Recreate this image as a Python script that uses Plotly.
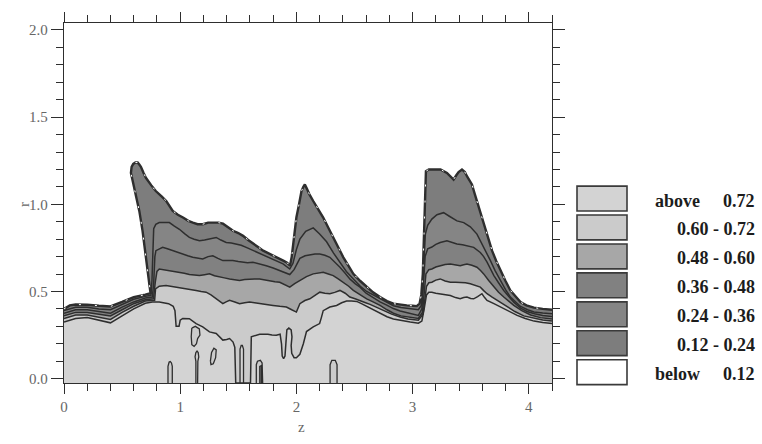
import plotly.graph_objects as go

# ---------------------------------------------------------------------------
# Data: contour lines of the field on the (z, r) plane, as (z, r) vertex lists
# ---------------------------------------------------------------------------
Z_MIN, Z_MAX = 0.0, 4.2
R_MIN, R_MAX = -0.025, 2.04

levels = [0.12, 0.24, 0.36, 0.48, 0.60, 0.72]
legend_labels = ["0.72", "0.60 - 0.72", "0.48 - 0.60", "0.36 - 0.48",
                 "0.24 - 0.36", "0.12 - 0.24", "0.12"]
legend_prefix = ["above", "", "", "", "", "", "below"]

# fill colours, from "below 0.12" up to "above 0.72"
band_colors = ["#ffffff", "#7d7d7d", "#858585", "#818181",
               "#a7a7a7", "#cbcbcb", "#d3d3d3"]

contour_012 = [
    (0.0, 0.40), (0.05, 0.42), (0.1, 0.425), (0.2, 0.424), (0.3, 0.418), (0.4, 0.414),
    (0.5, 0.44), (0.6, 0.468), (0.7, 0.482), (0.745, 0.49), (0.734, 0.544), (0.72, 0.62),
    (0.70, 0.734), (0.676, 0.848), (0.648, 0.962), (0.619, 1.057), (0.59, 1.133),
    (0.576, 1.18), (0.582, 1.215), (0.596, 1.232), (0.615, 1.24), (0.634, 1.24),
    (0.648, 1.228), (0.662, 1.215), (0.685, 1.18), (0.705, 1.152), (0.75, 1.11),
    (0.79, 1.076), (0.84, 1.045), (0.88, 1.019), (0.936, 0.962), (0.98, 0.94),
    (1.024, 0.924), (1.07, 0.905), (1.109, 0.895), (1.15, 0.886), (1.195, 0.886),
    (1.24, 0.895), (1.282, 0.895), (1.33, 0.895), (1.368, 0.889), (1.41, 0.87),
    (1.455, 0.848), (1.5, 0.835), (1.541, 0.819), (1.585, 0.795), (1.628, 0.772),
    (1.67, 0.755), (1.714, 0.734), (1.76, 0.72), (1.80, 0.705), (1.85, 0.69),
    (1.887, 0.677), (1.92, 0.665), (1.945, 0.648), (1.96, 0.70), (1.975, 0.80),
    (1.99, 0.88), (2.0, 0.924), (2.02, 0.99), (2.044, 1.076), (2.06, 1.10),
    (2.073, 1.114), (2.09, 1.09), (2.11, 1.06), (2.145, 1.019), (2.19, 0.97),
    (2.231, 0.924), (2.275, 0.865), (2.317, 0.81), (2.36, 0.75), (2.404, 0.696),
    (2.45, 0.645), (2.49, 0.601), (2.55, 0.56), (2.605, 0.525), (2.66, 0.495),
    (2.72, 0.468), (2.78, 0.445), (2.835, 0.43), (2.9, 0.422), (2.95, 0.42),
    (3.0, 0.418), (3.036, 0.416), (3.06, 0.43), (3.075, 0.48), (3.088, 0.60),
    (3.096, 0.75), (3.104, 0.95), (3.11, 1.10), (3.115, 1.19), (3.14, 1.20),
    (3.18, 1.20), (3.24, 1.20), (3.296, 1.18), (3.33, 1.16), (3.353, 1.142),
    (3.375, 1.165), (3.396, 1.185), (3.425, 1.20), (3.45, 1.185), (3.468, 1.161),
    (3.49, 1.14), (3.511, 1.114), (3.535, 1.06), (3.554, 1.019), (3.575, 0.97),
    (3.597, 0.924), (3.62, 0.875), (3.641, 0.829), (3.663, 0.78), (3.684, 0.734),
    (3.72, 0.675), (3.756, 0.62), (3.8, 0.56), (3.842, 0.506), (3.885, 0.47),
    (3.929, 0.439), (3.98, 0.42), (4.045, 0.407), (4.12, 0.40), (4.2, 0.395),
]

contour_024 = [
    (0.0, 0.39), (0.1, 0.41), (0.2, 0.41), (0.3, 0.40), (0.4, 0.395), (0.5, 0.425),
    (0.6, 0.455), (0.7, 0.472), (0.748, 0.478), (0.757, 0.56), (0.764, 0.75),
    (0.772, 0.86), (0.79, 0.885), (0.82, 0.895), (0.87, 0.895), (0.907, 0.895),
    (0.95, 0.875), (0.993, 0.857), (1.04, 0.83), (1.079, 0.81), (1.12, 0.80),
    (1.166, 0.791), (1.21, 0.795), (1.252, 0.80), (1.31, 0.81), (1.35, 0.795),
    (1.396, 0.781), (1.44, 0.778), (1.482, 0.772), (1.525, 0.765), (1.568, 0.753),
    (1.63, 0.735), (1.684, 0.715), (1.74, 0.70), (1.799, 0.686), (1.845, 0.672),
    (1.885, 0.658), (1.943, 0.629), (1.97, 0.66), (2.0, 0.74), (2.03, 0.80),
    (2.08, 0.845), (2.145, 0.865), (2.2, 0.83), (2.26, 0.785), (2.32, 0.72),
    (2.375, 0.668), (2.43, 0.615), (2.49, 0.572), (2.55, 0.53), (2.605, 0.50),
    (2.66, 0.48), (2.72, 0.455), (2.78, 0.435), (2.835, 0.418), (2.9, 0.408),
    (2.95, 0.403), (3.0, 0.40), (3.05, 0.395), (3.075, 0.42), (3.09, 0.55),
    (3.1, 0.70), (3.11, 0.83), (3.13, 0.88), (3.166, 0.915), (3.21, 0.94),
    (3.267, 0.952), (3.32, 0.93), (3.382, 0.905), (3.44, 0.895), (3.497, 0.871),
    (3.554, 0.829), (3.585, 0.79), (3.612, 0.753), (3.64, 0.715), (3.67, 0.677),
    (3.71, 0.62), (3.756, 0.563), (3.8, 0.51), (3.842, 0.468), (3.885, 0.44),
    (3.929, 0.414), (3.99, 0.395), (4.045, 0.382), (4.12, 0.376), (4.2, 0.372),
]

contour_036 = [
    (0.0, 0.375), (0.1, 0.395), (0.2, 0.395), (0.3, 0.385), (0.4, 0.375), (0.5, 0.41),
    (0.6, 0.44), (0.7, 0.462), (0.76, 0.468), (0.772, 0.55), (0.782, 0.70),
    (0.791, 0.734), (0.82, 0.745), (0.849, 0.753), (0.89, 0.745), (0.935, 0.734),
    (0.98, 0.722), (1.022, 0.715), (1.065, 0.705), (1.108, 0.696), (1.15, 0.69),
    (1.194, 0.686), (1.24, 0.70), (1.281, 0.705), (1.325, 0.69), (1.367, 0.677),
    (1.41, 0.677), (1.453, 0.677), (1.5, 0.672), (1.54, 0.668), (1.58, 0.665),
    (1.626, 0.668), (1.68, 0.66), (1.741, 0.648), (1.8, 0.635), (1.857, 0.62),
    (1.9, 0.608), (1.943, 0.597), (1.98, 0.625), (2.03, 0.69), (2.075, 0.705),
    (2.116, 0.711), (2.16, 0.715), (2.202, 0.715), (2.245, 0.708), (2.288, 0.696),
    (2.33, 0.67), (2.375, 0.639), (2.42, 0.605), (2.46, 0.572), (2.505, 0.545),
    (2.548, 0.525), (2.6, 0.49), (2.663, 0.462), (2.72, 0.44), (2.778, 0.422),
    (2.835, 0.402), (2.893, 0.388), (2.95, 0.378), (3.0, 0.37), (3.05, 0.363),
    (3.08, 0.40), (3.095, 0.55), (3.108, 0.70), (3.13, 0.745), (3.166, 0.755),
    (3.2, 0.77), (3.238, 0.781), (3.296, 0.791), (3.34, 0.78), (3.382, 0.772),
    (3.43, 0.768), (3.468, 0.763), (3.526, 0.753), (3.583, 0.724), (3.612, 0.70),
    (3.641, 0.668), (3.67, 0.63), (3.7, 0.591), (3.74, 0.55), (3.785, 0.506),
    (3.83, 0.47), (3.871, 0.439), (3.93, 0.405), (3.986, 0.385), (4.05, 0.372),
    (4.12, 0.362), (4.2, 0.357),
]

contour_048 = [
    (0.0, 0.36), (0.1, 0.38), (0.2, 0.38), (0.3, 0.37), (0.4, 0.36), (0.5, 0.395),
    (0.6, 0.43), (0.7, 0.452), (0.77, 0.458), (0.785, 0.55), (0.8, 0.615),
    (0.82, 0.629), (0.86, 0.625), (0.907, 0.62), (0.95, 0.615), (0.993, 0.61),
    (1.035, 0.605), (1.079, 0.597), (1.12, 0.593), (1.166, 0.591), (1.21, 0.596),
    (1.252, 0.601), (1.295, 0.59), (1.338, 0.582), (1.38, 0.578), (1.425, 0.572),
    (1.47, 0.567), (1.511, 0.563), (1.555, 0.568), (1.597, 0.572), (1.64, 0.572),
    (1.684, 0.572), (1.73, 0.565), (1.77, 0.559), (1.815, 0.556), (1.857, 0.553),
    (1.9, 0.54), (1.943, 0.525), (1.985, 0.545), (2.03, 0.563), (2.087, 0.585),
    (2.145, 0.601), (2.19, 0.608), (2.231, 0.61), (2.275, 0.60), (2.317, 0.591),
    (2.36, 0.572), (2.404, 0.553), (2.45, 0.53), (2.49, 0.506), (2.55, 0.48),
    (2.605, 0.458), (2.66, 0.44), (2.72, 0.42), (2.78, 0.395), (2.835, 0.375),
    (2.9, 0.36), (2.98, 0.35), (3.05, 0.345), (3.085, 0.38), (3.1, 0.48),
    (3.115, 0.60), (3.14, 0.625), (3.166, 0.629), (3.2, 0.64), (3.238, 0.648),
    (3.28, 0.655), (3.325, 0.658), (3.37, 0.652), (3.41, 0.648), (3.44, 0.653),
    (3.468, 0.658), (3.51, 0.65), (3.554, 0.639), (3.585, 0.62), (3.612, 0.601),
    (3.655, 0.563), (3.7, 0.525), (3.74, 0.495), (3.785, 0.468), (3.83, 0.443),
    (3.871, 0.42), (3.94, 0.39), (4.016, 0.365), (4.1, 0.35), (4.2, 0.342),
]

contour_060 = [
    (0.0, 0.345), (0.1, 0.365), (0.2, 0.365), (0.3, 0.352), (0.4, 0.34), (0.5, 0.38),
    (0.6, 0.415), (0.7, 0.445), (0.78, 0.45), (0.788, 0.515), (0.82, 0.53),
    (0.878, 0.534), (0.92, 0.53), (0.964, 0.525), (1.005, 0.52), (1.05, 0.515),
    (1.095, 0.51), (1.137, 0.506), (1.18, 0.50), (1.223, 0.496), (1.265, 0.48),
    (1.31, 0.458), (1.34, 0.445), (1.367, 0.43), (1.395, 0.44), (1.425, 0.449),
    (1.47, 0.44), (1.511, 0.43), (1.555, 0.435), (1.597, 0.439), (1.64, 0.435),
    (1.684, 0.43), (1.74, 0.425), (1.799, 0.42), (1.857, 0.415), (1.914, 0.411),
    (1.96, 0.395), (2.0, 0.382), (2.03, 0.43), (2.073, 0.448), (2.116, 0.458),
    (2.16, 0.478), (2.202, 0.496), (2.245, 0.49), (2.288, 0.487), (2.33, 0.495),
    (2.375, 0.506), (2.42, 0.49), (2.46, 0.468), (2.505, 0.458), (2.548, 0.449),
    (2.59, 0.437), (2.634, 0.426), (2.69, 0.41), (2.75, 0.392), (2.82, 0.37),
    (2.893, 0.354), (2.96, 0.342), (3.05, 0.335), (3.09, 0.37), (3.105, 0.45),
    (3.12, 0.53), (3.14, 0.55), (3.166, 0.553), (3.2, 0.565), (3.238, 0.572),
    (3.28, 0.56), (3.325, 0.553), (3.37, 0.553), (3.41, 0.553), (3.455, 0.55),
    (3.497, 0.544), (3.54, 0.535), (3.583, 0.525), (3.612, 0.505), (3.641, 0.487),
    (3.685, 0.467), (3.727, 0.449), (3.77, 0.43), (3.813, 0.411), (3.88, 0.385),
    (3.957, 0.36), (4.05, 0.345), (4.12, 0.337), (4.2, 0.33),
]

contour_072 = [
    (0.0, 0.325), (0.1, 0.345), (0.2, 0.35), (0.3, 0.335), (0.4, 0.32), (0.5, 0.36),
    (0.6, 0.40), (0.7, 0.432), (0.76, 0.44), (0.82, 0.44), (0.9, 0.43), (0.94, 0.415),
    (0.955, 0.39), (0.965, 0.30), (0.99, 0.30), (1.0, 0.335), (1.022, 0.345),
    (1.079, 0.344), (1.11, 0.33), (1.137, 0.316), (1.194, 0.297), (1.252, 0.268),
    (1.31, 0.259), (1.367, 0.221), (1.40, 0.225), (1.425, 0.23), (1.455, 0.21),
    (1.47, 0.18), (1.478, R_MIN), (1.605, R_MIN), (1.612, 0.24), (1.65, 0.25),
    (1.684, 0.255), (1.72, 0.255), (1.755, 0.255), (1.79, 0.25), (1.827, 0.249),
    (1.86, 0.255), (1.872, 0.20), (1.878, 0.13), (1.89, 0.115), (1.902, 0.13),
    (1.908, 0.22), (1.918, 0.28), (1.935, 0.29), (1.955, 0.28), (1.962, 0.24),
    (1.955, 0.19), (1.96, 0.145), (1.98, 0.12), (2.0, 0.12), (2.03, 0.14),
    (2.06, 0.20), (2.087, 0.27), (2.145, 0.297), (2.2, 0.316), (2.215, 0.35),
    (2.231, 0.39), (2.288, 0.411), (2.346, 0.42), (2.39, 0.435), (2.432, 0.445),
    (2.475, 0.445), (2.519, 0.443), (2.56, 0.43), (2.605, 0.415), (2.66, 0.395),
    (2.72, 0.375), (2.78, 0.355), (2.835, 0.342), (2.9, 0.333), (2.98, 0.325),
    (3.05, 0.318), (3.08, 0.33), (3.1, 0.40), (3.12, 0.48), (3.14, 0.495),
    (3.166, 0.496), (3.2, 0.49), (3.238, 0.487), (3.28, 0.482), (3.325, 0.477),
    (3.37, 0.465), (3.41, 0.458), (3.44, 0.465), (3.468, 0.468), (3.5, 0.46),
    (3.526, 0.458), (3.56, 0.47), (3.597, 0.487), (3.62, 0.465), (3.641, 0.449),
    (3.7, 0.43), (3.756, 0.411), (3.83, 0.385), (3.9, 0.363), (3.97, 0.345),
    (4.045, 0.33), (4.12, 0.322), (4.2, 0.316),
]

contours = [contour_012, contour_024, contour_036, contour_048, contour_060, contour_072]

# small closed 0.72 contours near the axis: (vertices, fill colour index)
islands = [
    ([(0.895, R_MIN), (0.895, 0.07), (0.905, 0.095), (0.915, 0.098), (0.925, 0.09),
      (0.932, 0.07), (0.932, R_MIN)], 5),
    ([(1.135, R_MIN), (1.135, 0.10), (1.128, 0.125), (1.135, 0.15), (1.145, 0.158),
      (1.155, 0.15), (1.16, 0.125), (1.152, 0.10), (1.15, R_MIN)], 5),
    ([(1.26, 0.10), (1.27, 0.15), (1.29, 0.175), (1.31, 0.165), (1.305, 0.12),
      (1.285, 0.085), (1.265, 0.08), (1.26, 0.10)], 5),
    ([(1.10, 0.29), (1.13, 0.30), (1.165, 0.285), (1.17, 0.25), (1.15, 0.23),
      (1.14, 0.20), (1.12, 0.185), (1.10, 0.195), (1.095, 0.24), (1.10, 0.29)], 5),
    ([(1.515, R_MIN), (1.515, 0.17), (1.525, 0.19), (1.535, 0.19), (1.545, 0.17),
      (1.545, R_MIN)], 6),
    ([(1.655, R_MIN), (1.655, 0.08), (1.665, 0.10), (1.69, 0.105), (1.705, 0.09),
      (1.71, R_MIN)], 5),
    ([(1.685, R_MIN), (1.685, 0.07), (1.70, 0.075), (1.70, R_MIN)], 3),
    ([(2.29, R_MIN), (2.29, 0.08), (2.305, 0.105), (2.335, 0.105), (2.35, 0.08),
      (2.35, R_MIN)], 5),
]

# ---------------------------------------------------------------------------
# Figure
# ---------------------------------------------------------------------------
W, H = 762, 444
PL, PR, PT, PB = 64, 552, 21, 383      # plot area in pixels
LINE = "#2e2e2e"


def px(xp):
    return (xp - PL) / (PR - PL)


def py(yp):
    return (PB - yp) / (PB - PT)


fig = go.Figure()

# filled bands: area under each contour gets the colour of the band above its level
for k, path in enumerate(contours):
    zs = [p[0] for p in path] + [path[-1][0], path[0][0]]
    rs = [p[1] for p in path] + [R_MIN, R_MIN]
    fig.add_trace(go.Scatter(x=zs, y=rs, mode="lines", fill="toself",
                             fillcolor=band_colors[k + 1], line=dict(width=0),
                             hoverinfo="skip", showlegend=False))

for verts, ci in islands:
    fig.add_trace(go.Scatter(x=[v[0] for v in verts], y=[v[1] for v in verts],
                             mode="lines", fill="toself", fillcolor=band_colors[ci],
                             line=dict(color=LINE, width=1.3),
                             hoverinfo="skip", showlegend=False))

# contour lines
for k, path in enumerate(contours):
    fig.add_trace(go.Scatter(x=[p[0] for p in path], y=[p[1] for p in path],
                             mode="lines",
                             line=dict(color=LINE, width=2.4 if k == 0 else 1.5),
                             hoverinfo="skip", showlegend=False))

# sparse light flecks along the outer (0.12) contour
fig.add_trace(go.Scatter(x=[p[0] for p in contour_012], y=[p[1] for p in contour_012],
                         mode="lines",
                         line=dict(color="white", width=1.0, dash="2px,14px"),
                         hoverinfo="skip", showlegend=False))

# legend: shaded boxes with range labels
box_top, box_h, pitch = 185, 25, 29.1
shapes = []
annotations = []
legend_colors = band_colors[::-1]
legend_font = dict(family="Liberation Serif", size=18, color="#1c1c1c")
for i, (lab, pre) in enumerate(zip(legend_labels, legend_prefix)):
    y0 = box_top + i * pitch
    shapes.append(dict(type="rect", xref="paper", yref="paper",
                       x0=px(577), x1=px(627), y0=py(y0 + box_h), y1=py(y0),
                       fillcolor=legend_colors[i],
                       line=dict(color="#3a3a3a", width=1.6)))
    yc = py(y0 + box_h / 2 + 2)
    annotations.append(dict(xref="paper", yref="paper", x=px(757), y=yc,
                            text="<b>%s</b>" % lab, showarrow=False,
                            xanchor="right", yanchor="middle", font=legend_font))
    if pre:
        annotations.append(dict(xref="paper", yref="paper", x=px(653), y=yc,
                                text="<b>%s</b>" % pre, showarrow=False,
                                xanchor="left", yanchor="middle", font=legend_font))

# axis titles
annotations.append(dict(xref="paper", yref="paper", x=px(14), y=py(204), text="r",
                        textangle=-90, showarrow=False,
                        font=dict(family="Liberation Serif", size=15, color="#666")))
annotations.append(dict(xref="paper", yref="paper", x=px(301), y=py(437), text="z",
                        showarrow=False,
                        font=dict(family="Liberation Serif", size=15, color="#666")))

tickfont = dict(family="Liberation Serif", size=15, color="#666")
axis_common = dict(showline=True, linecolor=LINE, linewidth=1.3, mirror="ticks",
                   ticks="outside", tickcolor=LINE, tickwidth=1.2,
                   showgrid=False, zeroline=False, tickfont=tickfont)

fig.update_layout(
    width=W, height=H,
    margin=dict(l=PL, r=W - PR, t=PT, b=H - PB),
    paper_bgcolor="white", plot_bgcolor="white",
    showlegend=False,
    shapes=shapes, annotations=annotations,
    xaxis=dict(range=[Z_MIN, Z_MAX], tick0=0, dtick=1, ticklen=10,
               minor=dict(dtick=0.2, ticks="outside", ticklen=7,
                          tickcolor=LINE, tickwidth=1.1),
               **axis_common),
    yaxis=dict(range=[R_MIN, R_MAX], tick0=0, dtick=0.5, ticklen=12,
               tickformat=".1f",
               minor=dict(dtick=0.1, ticks="outside", ticklen=7,
                          tickcolor=LINE, tickwidth=1.1),
               **axis_common),
)

fig.write_html("out.html")
